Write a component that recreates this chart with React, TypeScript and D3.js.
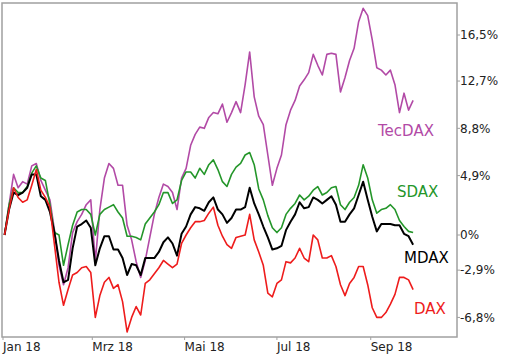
import React from "react";
import * as d3 from "d3";

// Performance since start of 2018 in %, sampled every 3 calendar days from Jan 2
const tecdax = [0.0, 2.5, 5.0, 3.9, 4.4, 4.2, 5.7, 5.9, 4.5, 3.7,
  2.9, 0.4, -2.5, -4.1, -2.7, 0.2, 1.1, 1.7, 2.5, 2.9,
  -2.2, 2.1, 4.7, 5.9, 5.5, 4.1, 4.1, 0.8, -0.4, -2.2,
  -3.5, -2.1, -0.2, 1.7, 3.1, 4.2, 4.0, 3.5, 2.1, 4.7,
  5.5, 7.4, 8.3, 8.9, 8.8, 9.7, 10.1, 10.0, 10.8, 9.3,
  10.1, 11.0, 10.1, 12.4, 15.1, 11.4, 9.8, 9.1, 6.6, 4.1,
  5.5, 6.6, 9.1, 10.3, 11.1, 12.3, 12.8, 13.4, 14.9, 14.0,
  13.2, 14.9, 15.0, 14.9, 11.8, 13.0, 14.4, 15.4, 17.6, 18.7,
  18.1, 16.1, 13.8, 13.6, 13.2, 13.6, 12.4, 10.1, 11.7, 10.3, 11.1];

const sdax = [0.0, 2.5, 3.9, 3.5, 3.5, 4.0, 5.1, 5.7, 4.7, 4.5,
  2.5, 0.2, 0.0, -2.5, -0.8, 0.8, 1.9, 2.1, 2.1, 1.7,
  0.0, 1.7, 2.1, 2.3, 2.5, 1.9, 1.4, -0.1, -0.1, -0.2,
  -0.4, 0.9, 1.4, 1.9, 2.5, 3.5, 3.5, 2.6, 2.9, 4.5,
  5.2, 5.2, 4.7, 5.5, 5.0, 5.8, 6.2, 5.4, 4.4, 4.0,
  5.0, 5.6, 5.9, 6.6, 6.8, 5.8, 3.8, 2.9, 1.6, 0.6,
  0.2, 0.6, 1.7, 2.2, 2.6, 3.3, 2.9, 3.2, 3.7, 4.0,
  3.3, 3.5, 3.9, 4.0, 2.5, 2.1, 2.7, 3.1, 4.1, 5.8,
  4.7, 2.9, 1.8, 2.1, 2.2, 2.5, 2.1, 1.2, 0.7, 0.3, 0.2];

const mdax = [0.0, 2.1, 3.5, 3.3, 3.5, 3.9, 5.0, 5.0, 3.2, 2.9,
  1.9, 0.2, -2.1, -3.9, -3.7, -1.1, 0.7, 0.9, 1.2, 0.6,
  -2.5, -1.1, -0.1, -0.1, -1.2, -1.2, -1.9, -3.3, -2.4, -2.5,
  -3.3, -1.9, -1.9, -1.9, -1.4, -0.6, -0.2, -0.7, -1.7, 0.1,
  0.7, 1.7, 2.3, 2.2, 2.0, 2.7, 3.1, 2.1, 1.7, 1.0,
  1.4, 2.1, 2.1, 2.3, 3.9, 2.6, 1.7, 0.7, -0.2, -1.2,
  -1.1, -0.9, 0.4, 1.1, 1.7, 2.7, 2.2, 2.3, 3.1, 2.9,
  2.6, 2.9, 3.2, 2.5, 1.1, 1.1, 1.7, 2.2, 3.3, 4.4,
  2.9, 1.5, 0.3, 0.9, 0.9, 0.9, 0.8, 0.8, 0.1, -0.1, -0.8];

const dax = [0.0, 2.1, 3.9, 3.1, 2.7, 2.9, 4.1, 5.4, 3.7, 3.1,
  2.3, -0.8, -3.9, -5.8, -4.5, -3.3, -3.1, -2.7, -2.6, -3.1,
  -6.8, -5.0, -3.9, -3.5, -4.4, -4.1, -5.5, -8.0, -6.8, -5.9,
  -6.6, -4.0, -3.7, -3.2, -2.7, -2.1, -2.4, -2.7, -2.4, -0.7,
  0.0, 0.6, 1.1, 1.1, 1.2, 1.8, 2.3, 0.8, -0.1, -0.8,
  -1.1, -0.2, -0.1, 0.0, 1.7, -0.4, -1.4, -2.5, -4.8, -5.1,
  -4.0, -3.7, -2.2, -2.3, -1.9, -1.1, -1.9, -2.2, 0.0, -0.4,
  -1.9, -1.9, -1.7, -2.6, -4.1, -5.0, -4.0, -3.5, -2.6, -2.6,
  -4.1, -6.0, -6.8, -6.8, -6.4, -5.7, -4.9, -3.5, -3.5, -3.7, -4.5];

const startDate = new Date(2018, 0, 2);
const dates = tecdax.map((_, i) => d3.timeDay.offset(startDate, 3 * i));

const yTicks = [16.5, 12.7, 8.8, 4.9, 0, -2.9, -6.8];
const yTickLabels = ["16,5%", "12,7%", "8,8%", "4,9%", "0%", "-2,9%", "-6,8%"];
const xTickDates = [new Date(2018, 0, 1), new Date(2018, 2, 1), new Date(2018, 4, 1), new Date(2018, 6, 1), new Date(2018, 8, 1)];
const xTickLabels = ["Jan 18", "Mrz 18", "Mai 18", "Jul 18", "Sep 18"];

const seriesNames = ["TecDAX", "SDAX", "MDAX", "DAX"];
const seriesValues = [tecdax, sdax, mdax, dax];
const seriesColors = ["#b24aa6", "#24962a", "#000000", "#ee1c1c"];
const seriesWidths = [1.6, 1.6, 2, 1.6];
const labelPos = [[378, 136], [397, 197], [404, 263], [414, 314]];

const FONT = "'DejaVu Sans', Verdana, sans-serif";

export default function App() {
  const left = 2, right = 457, top = 3, bottom = 337;
  const x = d3.scaleTime().domain([new Date(2018, 0, 1), new Date(2018, 9, 28)]).range([3, 457]);
  const y = d3.scaleLinear().domain([0, 16.5]).range([235, 35]);
  const line = d3.line<number>().x((_, i) => x(dates[i])).y((v) => y(v)).curve(d3.curveLinear);

  return (
    <svg width={506} height={357} style={{ position: "absolute", left: 0, top: 0, background: "#fff" }}>
      <rect x={0} y={0} width={506} height={357} fill="#fff" />
      <rect x={left} y={top} width={right - left} height={bottom - top} fill="none" stroke="#a0a0a0" strokeWidth={1.5} />
      {yTicks.map((t, i) => (
        <g key={"y" + i}>
          <line x1={right} x2={right + 3} y1={y(t)} y2={y(t)} stroke="#a0a0a0" strokeWidth={1} />
          <text x={460} y={y(t)} dy="0.36em" fontFamily={FONT} fontSize={12} fill="#222">{yTickLabels[i]}</text>
        </g>
      ))}
      {xTickDates.map((d, i) => (
        <g key={"x" + i}>
          <line x1={x(d)} x2={x(d)} y1={bottom} y2={bottom + 3} stroke="#a0a0a0" strokeWidth={1} />
          <text x={x(d)} y={351} fontFamily={FONT} fontSize={12} fill="#222">{xTickLabels[i]}</text>
        </g>
      ))}
      {seriesValues.map((vals, k) => (
        <path key={seriesNames[k]} d={line(vals) || ""} fill="none" stroke={seriesColors[k]} strokeWidth={seriesWidths[k]} strokeLinejoin="round" />
      ))}
      {seriesNames.map((n, k) => (
        <text key={"l" + n} x={labelPos[k][0]} y={labelPos[k][1]} fontFamily={FONT} fontSize={15} fill={seriesColors[k]}>{n}</text>
      ))}
    </svg>
  );
}
